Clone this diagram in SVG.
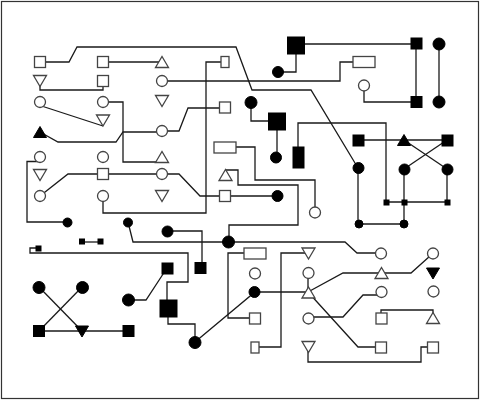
<svg xmlns="http://www.w3.org/2000/svg" xmlns:xlink="http://www.w3.org/1999/xlink" width="480" height="400" viewBox="0 0 480 400">
<style>
.ln{fill:none;stroke:#1a1a1a;stroke-width:1.3}
.o{fill:#fff;stroke:#444;stroke-width:1.3}
.f{fill:#000;stroke:#000;stroke-width:1}
</style>
<defs>
<rect id="s" x="-5.5" y="-5.5" width="11" height="11"/>
<circle id="c" r="5.5"/>
<polygon id="u" points="-6.5,5.5 6.5,5.5 0,-5.5"/>
<polygon id="d" points="-6.5,-5.5 6.5,-5.5 0,5.5"/>
<rect id="w" x="-11" y="-5.5" width="22" height="11"/>
<rect id="n" x="-4" y="-5.5" width="8" height="11"/>
<rect id="b" x="-8.5" y="-8.5" width="17" height="17"/>
<rect id="t" x="-2.5" y="-2.5" width="5" height="5"/>
</defs>
<rect x="1.5" y="1.5" width="477" height="397" fill="#fff" stroke="#333" stroke-width="1.2"/>
<g id="connectors" class="ln">
<path d="M40,62 H69 L77,47 H236 L252,90 H311 L358,168"/>
<path d="M103,62 H162"/>
<path d="M40,81 V90 H103 V81"/>
<path d="M40,105.5 L103,126"/>
<path d="M103,102 H123 V162 H162"/>
<path d="M40,132 L58,142 H116 L123,132 H162"/>
<path d="M162,81 H340 V62 H364"/>
<path d="M296,44 H416"/>
<path d="M278,72 H296 V45"/>
<path d="M364,86 V102 H416"/>
<path d="M416,44 V102"/>
<path d="M439,44 V102"/>
<path d="M225,62 H206 V213 H103 V196"/>
<path d="M162,131 H179 L188,108 H225"/>
<path d="M225,147 H255 V180 H315 V212"/>
<path d="M225,170 H238 V185 H298 V225 H229 V242"/>
<path d="M162,174 H179 L200,196 H277"/>
<path d="M40,161.5 H27 V222 H67"/>
<path d="M40,196 L68,174 H162"/>
<path d="M251,102 V121 H277 V157"/>
<path d="M298,157 V123 H386 V202"/>
<path d="M358,140 H447"/>
<path d="M404,140 L447,169"/>
<path d="M447,140 L404,169"/>
<path d="M404,169 V224"/>
<path d="M447,169 V202 H386"/>
<path d="M358,168 V224 H404"/>
<path d="M82,242 H100"/>
<path d="M38,248 H30 V253 H188 V282 H167 V308"/>
<path d="M168,308 V324 H195 V342"/>
<path d="M167,231 H202 V268"/>
<path d="M128,300 H146 L167,268"/>
<path d="M128,222 L133,242 H345 L357,253 H381"/>
<path d="M195,342 L255,292 H308"/>
<path d="M39,287 L82,331"/>
<path d="M82,287 L39,331"/>
<path d="M39,331 H128"/>
<path d="M255,253 H228 V318 H255"/>
<path d="M255,347 H281 V253 H308"/>
<path d="M308,273 V292"/>
<path d="M308,292 L343,273 H411 L430,256"/>
<path d="M308,292 L358,347 H381"/>
<path d="M308,317 H343 L363,295 H381"/>
<path d="M308,347 V362 H421 V347 H433"/>
<path d="M381,318 V310 H433 V318"/>
</g>
<g id="n1"><use href="#s" x="40" y="62" class="o"/></g>
<g id="n2"><use href="#d" x="40" y="81" class="o"/></g>
<g id="n3"><use href="#c" x="40" y="102" class="o"/></g>
<g id="n4"><use href="#u" x="40" y="132" class="f"/></g>
<g id="n5"><use href="#c" x="40" y="157" class="o"/></g>
<g id="n6"><use href="#d" x="40" y="175" class="o"/></g>
<g id="n7"><use href="#c" x="40" y="196" class="o"/></g>
<g id="n8"><use href="#s" x="103" y="62" class="o"/></g>
<g id="n9"><use href="#s" x="103" y="81" class="o"/></g>
<g id="n10"><use href="#c" x="103" y="102" class="o"/></g>
<g id="n11"><use href="#d" x="103" y="120.5" class="o"/></g>
<g id="n12"><use href="#c" x="103" y="157" class="o"/></g>
<g id="n13"><use href="#s" x="103" y="174" class="o"/></g>
<g id="n14"><use href="#c" x="103" y="196" class="o"/></g>
<g id="n15"><use href="#u" x="162" y="62" class="o"/></g>
<g id="n16"><use href="#c" x="162" y="81" class="o"/></g>
<g id="n17"><use href="#d" x="162" y="101" class="o"/></g>
<g id="n18"><use href="#c" x="162" y="131" class="o"/></g>
<g id="n19"><use href="#u" x="162" y="157" class="o"/></g>
<g id="n20"><use href="#c" x="162" y="174" class="o"/></g>
<g id="n21"><use href="#d" x="162" y="196" class="o"/></g>
<g id="n22"><use href="#n" x="225" y="62" class="o"/></g>
<g id="n23"><use href="#s" x="225" y="107.5" class="o"/></g>
<g id="n24"><use href="#w" x="225" y="147.5" class="o"/></g>
<g id="n25"><use href="#u" x="225.5" y="175" class="o"/></g>
<g id="n26"><use href="#s" x="225" y="196" class="o"/></g>
<g id="n27"><use href="#b" x="296" y="45.5" class="f"/></g>
<g id="n28"><circle cx="278" cy="72" r="5.5" class="f"/></g>
<g id="n29"><use href="#w" x="364" y="62" class="o"/></g>
<g id="n30"><use href="#c" x="364" y="85.5" class="o"/></g>
<g id="n31"><use href="#s" x="416.5" y="43.5" class="f"/></g>
<g id="n32"><use href="#s" x="416.5" y="102" class="f"/></g>
<g id="n33"><circle cx="439" cy="44" r="6" class="f"/></g>
<g id="n34"><circle cx="439" cy="102" r="6" class="f"/></g>
<g id="n35"><circle cx="251" cy="102.5" r="6" class="f"/></g>
<g id="n36"><use href="#b" x="277" y="121.5" class="f"/></g>
<g id="n37"><circle cx="276" cy="157.5" r="5.5" class="f"/></g>
<g id="n38"><rect x="293" y="147" width="11" height="21" class="f"/></g>
<g id="n39"><circle cx="277.5" cy="196" r="5.5" class="f"/></g>
<g id="n40"><use href="#c" x="315" y="212.5" class="o"/></g>
<g id="n41"><use href="#s" x="358.5" y="140.5" class="f"/></g>
<g id="n42"><use href="#u" x="404" y="140" class="f"/></g>
<g id="n43"><use href="#s" x="447.5" y="140.5" class="f"/></g>
<g id="n44"><circle cx="358.5" cy="168" r="5.5" class="f"/></g>
<g id="n45"><circle cx="404.5" cy="169.5" r="5.5" class="f"/></g>
<g id="n46"><circle cx="447.5" cy="169.5" r="5.5" class="f"/></g>
<g id="n47"><use href="#t" x="386.5" y="202.5" class="f"/></g>
<g id="n48"><use href="#t" x="404.5" y="202.5" class="f"/></g>
<g id="n49"><use href="#t" x="447.5" y="202.5" class="f"/></g>
<g id="n50"><circle cx="359" cy="224" r="4" class="f"/></g>
<g id="n51"><circle cx="404" cy="224" r="4" class="f"/></g>
<g id="n52"><circle cx="67.5" cy="222.5" r="4.5" class="f"/></g>
<g id="n53"><circle cx="128" cy="222.5" r="4.5" class="f"/></g>
<g id="n54"><use href="#t" x="82" y="241.5" class="f"/></g>
<g id="n55"><use href="#t" x="100.5" y="241.5" class="f"/></g>
<g id="n56"><use href="#t" x="38.5" y="248.5" class="f"/></g>
<g id="n57"><circle cx="167.5" cy="231.5" r="5.5" class="f"/></g>
<g id="n58"><circle cx="228.5" cy="242" r="6" class="f"/></g>
<g id="n59"><use href="#s" x="200.5" y="268" class="f"/></g>
<g id="n60"><use href="#s" x="167.5" y="268.5" class="f"/></g>
<g id="n61"><use href="#b" x="168.5" y="308.5" class="f"/></g>
<g id="n62"><circle cx="128.5" cy="300" r="6" class="f"/></g>
<g id="n63"><circle cx="195" cy="342.5" r="6" class="f"/></g>
<g id="n64"><circle cx="39" cy="287.5" r="6" class="f"/></g>
<g id="n65"><circle cx="82.5" cy="287.5" r="6" class="f"/></g>
<g id="n66"><use href="#s" x="39" y="331" class="f"/></g>
<g id="n67"><use href="#d" x="82" y="331.5" class="f"/></g>
<g id="n68"><use href="#s" x="128.5" y="331" class="f"/></g>
<g id="n69"><use href="#w" x="255" y="253.5" class="o"/></g>
<g id="n70"><use href="#c" x="255" y="273.5" class="o"/></g>
<g id="n71"><circle cx="254.5" cy="292" r="5.5" class="f"/></g>
<g id="n72"><use href="#s" x="255" y="318.5" class="o"/></g>
<g id="n73"><use href="#n" x="255" y="347.5" class="o"/></g>
<g id="n74"><use href="#d" x="308.5" y="253.5" class="o"/></g>
<g id="n75"><use href="#c" x="308.5" y="273" class="o"/></g>
<g id="n76"><use href="#u" x="308.5" y="292.5" class="o"/></g>
<g id="n77"><use href="#c" x="308.5" y="318.5" class="o"/></g>
<g id="n78"><use href="#d" x="308.5" y="347" class="o"/></g>
<g id="n79"><use href="#c" x="381" y="253.5" class="o"/></g>
<g id="n80"><use href="#u" x="381.5" y="273" class="o"/></g>
<g id="n81"><use href="#c" x="381.5" y="292" class="o"/></g>
<g id="n82"><use href="#s" x="381.5" y="318.5" class="o"/></g>
<g id="n83"><use href="#s" x="381" y="347.5" class="o"/></g>
<g id="n84"><use href="#c" x="433" y="253.5" class="o"/></g>
<g id="n85"><use href="#d" x="433" y="273.5" class="f"/></g>
<g id="n86"><use href="#c" x="433.5" y="291.5" class="o"/></g>
<g id="n87"><use href="#u" x="433" y="318" class="o"/></g>
<g id="n88"><use href="#s" x="433" y="347.5" class="o"/></g>
</svg>
